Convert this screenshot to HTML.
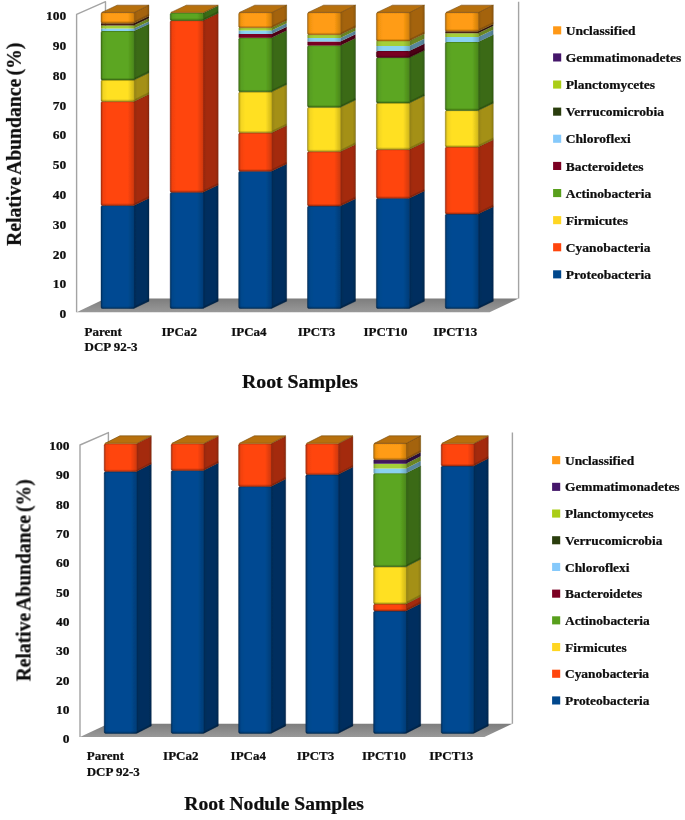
<!DOCTYPE html>
<html><head><meta charset="utf-8"><title>Relative abundance</title>
<style>
html,body{margin:0;padding:0;background:#fff;}
body{width:685px;height:820px;overflow:hidden;font-family:"Liberation Serif",serif;}
svg{display:block}
svg text{font-family:"Liberation Serif",serif;font-weight:bold;fill:#0c0c0c;stroke:#0c0c0c;stroke-width:0.22px;}
</style></head><body>
<svg width="685" height="820" viewBox="0 0 685 820">
<defs>
<linearGradient id="floorg" x1="0" y1="0" x2="0" y2="1"><stop offset="0" stop-color="#7d7d7d"/><stop offset="1" stop-color="#999999"/></linearGradient>
<linearGradient id="frontg" x1="0" y1="0" x2="1" y2="0"><stop offset="0" stop-color="#000" stop-opacity="0.30"/><stop offset="0.07" stop-color="#000" stop-opacity="0.05"/><stop offset="0.2" stop-color="#000" stop-opacity="0"/><stop offset="0.8" stop-color="#000" stop-opacity="0"/><stop offset="1" stop-color="#000" stop-opacity="0.2"/></linearGradient>
<linearGradient id="sideg" x1="0" y1="0" x2="1" y2="0"><stop offset="0" stop-color="#000" stop-opacity="0.10"/><stop offset="0.25" stop-color="#000" stop-opacity="0"/><stop offset="0.8" stop-color="#000" stop-opacity="0"/><stop offset="1" stop-color="#000" stop-opacity="0.14"/></linearGradient>
<linearGradient id="botg" x1="0" y1="0" x2="0" y2="1"><stop offset="0" stop-color="#000" stop-opacity="0"/><stop offset="1" stop-color="#000" stop-opacity="0.32"/></linearGradient>
<linearGradient id="topg" x1="0" y1="0" x2="0" y2="1"><stop offset="0" stop-color="#000" stop-opacity="0.14"/><stop offset="1" stop-color="#000" stop-opacity="0"/></linearGradient>
<filter id="soft" x="-2%" y="-2%" width="104%" height="104%"><feGaussianBlur stdDeviation="0.7"/></filter>
<filter id="softl" x="-5%" y="-5%" width="110%" height="110%"><feGaussianBlur stdDeviation="0.45"/></filter>
<filter id="softt" x="-5%" y="-5%" width="110%" height="110%"><feGaussianBlur stdDeviation="0.55"/></filter>
</defs>
<rect width="685" height="820" fill="#fff"/>
<g filter="url(#soft)">
<g fill="none" stroke="#a4a4a4" stroke-width="1.4" stroke-linejoin="round">
<polyline points="76.6,312.3 76.6,14.4 105.5,1.7 105.5,298.5"/>
<line x1="518.6" y1="1.7" x2="518.6" y2="298.5"/>
</g>
<polygon points="76.6,312.3 105.5,298.5 518.6,298.5 489.6,312.3" fill="url(#floorg)"/>
<polygon points="133.8,205.5 149.0,198.3 149.0,301.3 133.8,308.5" fill="#002f5e" stroke="#001c38" stroke-opacity="0.5" stroke-width="0.6" stroke-linejoin="round"/>
<polygon points="133.8,205.5 149.0,198.3 149.0,301.3 133.8,308.5" fill="url(#sideg)"/>
<polygon points="134.4,306.3 149.0,299.1 149.0,301.3 134.4,308.5" fill="#000" opacity="0.16"/>
<rect x="101.0" y="205.5" width="33.4" height="103.0" rx="1.6" fill="#004a92" stroke="#002850" stroke-opacity="0.55" stroke-width="0.7"/>
<rect x="101.0" y="205.5" width="33.4" height="103.0" rx="1.6" fill="url(#frontg)"/>
<rect x="101.0" y="306.1" width="33.4" height="2.4" rx="1" fill="url(#botg)"/>
<rect x="101.0" y="205.5" width="33.4" height="1.6" rx="1" fill="url(#topg)"/>
<polygon points="133.8,101.5 149.0,94.3 149.0,198.3 133.8,205.5" fill="#a42c0a" stroke="#621a06" stroke-opacity="0.5" stroke-width="0.6" stroke-linejoin="round"/>
<polygon points="133.8,101.5 149.0,94.3 149.0,198.3 133.8,205.5" fill="url(#sideg)"/>
<polygon points="134.4,203.3 149.0,196.1 149.0,198.3 134.4,205.5" fill="#000" opacity="0.16"/>
<rect x="101.0" y="101.5" width="33.4" height="104.0" rx="1.6" fill="#ff4511" stroke="#8c2509" stroke-opacity="0.55" stroke-width="0.7"/>
<rect x="101.0" y="101.5" width="33.4" height="104.0" rx="1.6" fill="url(#frontg)"/>
<rect x="101.0" y="203.1" width="33.4" height="2.4" rx="1" fill="url(#botg)"/>
<rect x="101.0" y="101.5" width="33.4" height="1.6" rx="1" fill="url(#topg)"/>
<polygon points="133.8,80.0 149.0,72.8 149.0,94.3 133.8,101.5" fill="#a49015" stroke="#62560c" stroke-opacity="0.5" stroke-width="0.6" stroke-linejoin="round"/>
<polygon points="133.8,80.0 149.0,72.8 149.0,94.3 133.8,101.5" fill="url(#sideg)"/>
<polygon points="134.4,99.3 149.0,92.1 149.0,94.3 134.4,101.5" fill="#000" opacity="0.16"/>
<rect x="101.0" y="80.0" width="33.4" height="21.5" rx="1.6" fill="#ffe022" stroke="#8c7b12" stroke-opacity="0.55" stroke-width="0.7"/>
<rect x="101.0" y="80.0" width="33.4" height="21.5" rx="1.6" fill="url(#frontg)"/>
<rect x="101.0" y="99.1" width="33.4" height="2.4" rx="1" fill="url(#botg)"/>
<rect x="101.0" y="80.0" width="33.4" height="1.6" rx="1" fill="url(#topg)"/>
<polygon points="133.8,31.1 149.0,23.9 149.0,72.8 133.8,80.0" fill="#3b6b15" stroke="#23400c" stroke-opacity="0.5" stroke-width="0.6" stroke-linejoin="round"/>
<polygon points="133.8,31.1 149.0,23.9 149.0,72.8 133.8,80.0" fill="url(#sideg)"/>
<polygon points="134.4,77.8 149.0,70.6 149.0,72.8 134.4,80.0" fill="#000" opacity="0.16"/>
<rect x="101.0" y="31.1" width="33.4" height="48.9" rx="1.6" fill="#5ca621" stroke="#325b12" stroke-opacity="0.55" stroke-width="0.7"/>
<rect x="101.0" y="31.1" width="33.4" height="48.9" rx="1.6" fill="url(#frontg)"/>
<rect x="101.0" y="77.6" width="33.4" height="2.4" rx="1" fill="url(#botg)"/>
<rect x="101.0" y="31.1" width="33.4" height="1.6" rx="1" fill="url(#topg)"/>
<polygon points="133.8,28.6 149.0,21.4 149.0,23.9 133.8,31.1" fill="#59879c"/>
<polygon points="133.8,28.6 149.0,21.4 149.0,23.9 133.8,31.1" fill="url(#sideg)"/>
<rect x="101.0" y="28.6" width="33.4" height="2.5" rx="0.3" fill="#8ad2f2"/>
<rect x="101.0" y="28.6" width="33.4" height="2.5" rx="0.3" fill="url(#frontg)"/>
<polygon points="133.8,25.5 149.0,18.3 149.0,21.4 133.8,28.6" fill="#6a8524"/>
<polygon points="133.8,25.5 149.0,18.3 149.0,21.4 133.8,28.6" fill="url(#sideg)"/>
<rect x="101.0" y="25.5" width="33.4" height="3.1" rx="0.3" fill="#a5cf38"/>
<rect x="101.0" y="25.5" width="33.4" height="3.1" rx="0.3" fill="url(#frontg)"/>
<polygon points="133.8,23.2 149.0,16.0 149.0,18.3 133.8,25.5" fill="#31160b"/>
<polygon points="133.8,23.2 149.0,16.0 149.0,18.3 133.8,25.5" fill="url(#sideg)"/>
<rect x="101.0" y="23.2" width="33.4" height="2.3" rx="0.3" fill="#4d2312"/>
<rect x="101.0" y="23.2" width="33.4" height="2.3" rx="0.3" fill="url(#frontg)"/>
<polygon points="133.8,12.4 149.0,5.2 149.0,16.0 133.8,23.2" fill="#a4640b" stroke="#623c06" stroke-opacity="0.5" stroke-width="0.6" stroke-linejoin="round"/>
<polygon points="133.8,12.4 149.0,5.2 149.0,16.0 133.8,23.2" fill="url(#sideg)"/>
<polygon points="134.4,21.0 149.0,13.8 149.0,16.0 134.4,23.2" fill="#000" opacity="0.16"/>
<rect x="101.0" y="12.4" width="33.4" height="10.8" rx="1.6" fill="#ff9c12" stroke="#8c5509" stroke-opacity="0.55" stroke-width="0.7"/>
<rect x="101.0" y="12.4" width="33.4" height="10.8" rx="1.6" fill="url(#frontg)"/>
<rect x="101.0" y="20.8" width="33.4" height="2.4" rx="1" fill="url(#botg)"/>
<rect x="101.0" y="12.4" width="33.4" height="1.6" rx="1" fill="url(#topg)"/>
<polygon points="101.8,12.4 134.4,12.4 149.0,5.2 117.1,5.2" fill="#b7700c" stroke="#6d4307" stroke-opacity="0.7" stroke-width="0.8" stroke-linejoin="round"/>
<polygon points="203.0,192.3 218.2,185.1 218.2,301.3 203.0,308.5" fill="#002f5e" stroke="#001c38" stroke-opacity="0.5" stroke-width="0.6" stroke-linejoin="round"/>
<polygon points="203.0,192.3 218.2,185.1 218.2,301.3 203.0,308.5" fill="url(#sideg)"/>
<polygon points="203.6,306.3 218.2,299.1 218.2,301.3 203.6,308.5" fill="#000" opacity="0.16"/>
<rect x="170.2" y="192.3" width="33.4" height="116.2" rx="1.6" fill="#004a92" stroke="#002850" stroke-opacity="0.55" stroke-width="0.7"/>
<rect x="170.2" y="192.3" width="33.4" height="116.2" rx="1.6" fill="url(#frontg)"/>
<rect x="170.2" y="306.1" width="33.4" height="2.4" rx="1" fill="url(#botg)"/>
<rect x="170.2" y="192.3" width="33.4" height="1.6" rx="1" fill="url(#topg)"/>
<polygon points="203.0,20.5 218.2,13.3 218.2,185.1 203.0,192.3" fill="#a42c0a" stroke="#621a06" stroke-opacity="0.5" stroke-width="0.6" stroke-linejoin="round"/>
<polygon points="203.0,20.5 218.2,13.3 218.2,185.1 203.0,192.3" fill="url(#sideg)"/>
<polygon points="203.6,190.1 218.2,182.9 218.2,185.1 203.6,192.3" fill="#000" opacity="0.16"/>
<rect x="170.2" y="20.5" width="33.4" height="171.8" rx="1.6" fill="#ff4511" stroke="#8c2509" stroke-opacity="0.55" stroke-width="0.7"/>
<rect x="170.2" y="20.5" width="33.4" height="171.8" rx="1.6" fill="url(#frontg)"/>
<rect x="170.2" y="189.9" width="33.4" height="2.4" rx="1" fill="url(#botg)"/>
<rect x="170.2" y="20.5" width="33.4" height="1.6" rx="1" fill="url(#topg)"/>
<polygon points="203.0,12.9 218.2,5.7 218.2,13.3 203.0,20.5" fill="#3b6b15" stroke="#23400c" stroke-opacity="0.5" stroke-width="0.6" stroke-linejoin="round"/>
<polygon points="203.0,12.9 218.2,5.7 218.2,13.3 203.0,20.5" fill="url(#sideg)"/>
<polygon points="203.6,18.3 218.2,11.1 218.2,13.3 203.6,20.5" fill="#000" opacity="0.16"/>
<rect x="170.2" y="12.9" width="33.4" height="7.6" rx="1.6" fill="#5ca621" stroke="#325b12" stroke-opacity="0.55" stroke-width="0.7"/>
<rect x="170.2" y="12.9" width="33.4" height="7.6" rx="1.6" fill="url(#frontg)"/>
<rect x="170.2" y="18.1" width="33.4" height="2.4" rx="1" fill="url(#botg)"/>
<rect x="170.2" y="12.9" width="33.4" height="1.6" rx="1" fill="url(#topg)"/>
<polygon points="203.0,12.4 218.2,5.2 218.2,5.7 203.0,12.9" fill="#a4640b"/>
<rect x="170.2" y="12.4" width="33.4" height="0.5" rx="0.3" fill="#ff9c12"/>
<polygon points="171.0,12.4 203.6,12.4 218.2,5.2 186.3,5.2" fill="#b7700c" stroke="#6d4307" stroke-opacity="0.7" stroke-width="0.8" stroke-linejoin="round"/>
<polygon points="271.5,171.2 286.7,164.0 286.7,301.3 271.5,308.5" fill="#002f5e" stroke="#001c38" stroke-opacity="0.5" stroke-width="0.6" stroke-linejoin="round"/>
<polygon points="271.5,171.2 286.7,164.0 286.7,301.3 271.5,308.5" fill="url(#sideg)"/>
<polygon points="272.1,306.3 286.7,299.1 286.7,301.3 272.1,308.5" fill="#000" opacity="0.16"/>
<rect x="238.7" y="171.2" width="33.4" height="137.3" rx="1.6" fill="#004a92" stroke="#002850" stroke-opacity="0.55" stroke-width="0.7"/>
<rect x="238.7" y="171.2" width="33.4" height="137.3" rx="1.6" fill="url(#frontg)"/>
<rect x="238.7" y="306.1" width="33.4" height="2.4" rx="1" fill="url(#botg)"/>
<rect x="238.7" y="171.2" width="33.4" height="1.6" rx="1" fill="url(#topg)"/>
<polygon points="271.5,132.8 286.7,125.6 286.7,164.0 271.5,171.2" fill="#a42c0a" stroke="#621a06" stroke-opacity="0.5" stroke-width="0.6" stroke-linejoin="round"/>
<polygon points="271.5,132.8 286.7,125.6 286.7,164.0 271.5,171.2" fill="url(#sideg)"/>
<polygon points="272.1,169.0 286.7,161.8 286.7,164.0 272.1,171.2" fill="#000" opacity="0.16"/>
<rect x="238.7" y="132.8" width="33.4" height="38.4" rx="1.6" fill="#ff4511" stroke="#8c2509" stroke-opacity="0.55" stroke-width="0.7"/>
<rect x="238.7" y="132.8" width="33.4" height="38.4" rx="1.6" fill="url(#frontg)"/>
<rect x="238.7" y="168.8" width="33.4" height="2.4" rx="1" fill="url(#botg)"/>
<rect x="238.7" y="132.8" width="33.4" height="1.6" rx="1" fill="url(#topg)"/>
<polygon points="271.5,91.8 286.7,84.6 286.7,125.6 271.5,132.8" fill="#a49015" stroke="#62560c" stroke-opacity="0.5" stroke-width="0.6" stroke-linejoin="round"/>
<polygon points="271.5,91.8 286.7,84.6 286.7,125.6 271.5,132.8" fill="url(#sideg)"/>
<polygon points="272.1,130.6 286.7,123.4 286.7,125.6 272.1,132.8" fill="#000" opacity="0.16"/>
<rect x="238.7" y="91.8" width="33.4" height="41.0" rx="1.6" fill="#ffe022" stroke="#8c7b12" stroke-opacity="0.55" stroke-width="0.7"/>
<rect x="238.7" y="91.8" width="33.4" height="41.0" rx="1.6" fill="url(#frontg)"/>
<rect x="238.7" y="130.4" width="33.4" height="2.4" rx="1" fill="url(#botg)"/>
<rect x="238.7" y="91.8" width="33.4" height="1.6" rx="1" fill="url(#topg)"/>
<polygon points="271.5,37.7 286.7,30.5 286.7,84.6 271.5,91.8" fill="#3b6b15" stroke="#23400c" stroke-opacity="0.5" stroke-width="0.6" stroke-linejoin="round"/>
<polygon points="271.5,37.7 286.7,30.5 286.7,84.6 271.5,91.8" fill="url(#sideg)"/>
<polygon points="272.1,89.6 286.7,82.4 286.7,84.6 272.1,91.8" fill="#000" opacity="0.16"/>
<rect x="238.7" y="37.7" width="33.4" height="54.1" rx="1.6" fill="#5ca621" stroke="#325b12" stroke-opacity="0.55" stroke-width="0.7"/>
<rect x="238.7" y="37.7" width="33.4" height="54.1" rx="1.6" fill="url(#frontg)"/>
<rect x="238.7" y="89.4" width="33.4" height="2.4" rx="1" fill="url(#botg)"/>
<rect x="238.7" y="37.7" width="33.4" height="1.6" rx="1" fill="url(#topg)"/>
<polygon points="271.5,34.0 286.7,26.8 286.7,30.5 271.5,37.7" fill="#4e0315"/>
<polygon points="271.5,34.0 286.7,26.8 286.7,30.5 271.5,37.7" fill="url(#sideg)"/>
<rect x="238.7" y="34.0" width="33.4" height="3.7" rx="0.3" fill="#7a0622"/>
<rect x="238.7" y="34.0" width="33.4" height="3.7" rx="0.3" fill="url(#frontg)"/>
<polygon points="271.5,30.5 286.7,23.3 286.7,26.8 271.5,34.0" fill="#59879c"/>
<polygon points="271.5,30.5 286.7,23.3 286.7,26.8 271.5,34.0" fill="url(#sideg)"/>
<rect x="238.7" y="30.5" width="33.4" height="3.5" rx="0.3" fill="#8ad2f2"/>
<rect x="238.7" y="30.5" width="33.4" height="3.5" rx="0.3" fill="url(#frontg)"/>
<polygon points="271.5,27.8 286.7,20.6 286.7,23.3 271.5,30.5" fill="#6a8524"/>
<polygon points="271.5,27.8 286.7,20.6 286.7,23.3 271.5,30.5" fill="url(#sideg)"/>
<rect x="238.7" y="27.8" width="33.4" height="2.7" rx="0.3" fill="#a5cf38"/>
<rect x="238.7" y="27.8" width="33.4" height="2.7" rx="0.3" fill="url(#frontg)"/>
<polygon points="271.5,12.4 286.7,5.2 286.7,20.6 271.5,27.8" fill="#a4640b" stroke="#623c06" stroke-opacity="0.5" stroke-width="0.6" stroke-linejoin="round"/>
<polygon points="271.5,12.4 286.7,5.2 286.7,20.6 271.5,27.8" fill="url(#sideg)"/>
<polygon points="272.1,25.6 286.7,18.4 286.7,20.6 272.1,27.8" fill="#000" opacity="0.16"/>
<rect x="238.7" y="12.4" width="33.4" height="15.4" rx="1.6" fill="#ff9c12" stroke="#8c5509" stroke-opacity="0.55" stroke-width="0.7"/>
<rect x="238.7" y="12.4" width="33.4" height="15.4" rx="1.6" fill="url(#frontg)"/>
<rect x="238.7" y="25.4" width="33.4" height="2.4" rx="1" fill="url(#botg)"/>
<rect x="238.7" y="12.4" width="33.4" height="1.6" rx="1" fill="url(#topg)"/>
<polygon points="239.5,12.4 272.1,12.4 286.7,5.2 254.8,5.2" fill="#b7700c" stroke="#6d4307" stroke-opacity="0.7" stroke-width="0.8" stroke-linejoin="round"/>
<polygon points="340.3,206.0 355.5,198.8 355.5,301.3 340.3,308.5" fill="#002f5e" stroke="#001c38" stroke-opacity="0.5" stroke-width="0.6" stroke-linejoin="round"/>
<polygon points="340.3,206.0 355.5,198.8 355.5,301.3 340.3,308.5" fill="url(#sideg)"/>
<polygon points="340.9,306.3 355.5,299.1 355.5,301.3 340.9,308.5" fill="#000" opacity="0.16"/>
<rect x="307.5" y="206.0" width="33.4" height="102.5" rx="1.6" fill="#004a92" stroke="#002850" stroke-opacity="0.55" stroke-width="0.7"/>
<rect x="307.5" y="206.0" width="33.4" height="102.5" rx="1.6" fill="url(#frontg)"/>
<rect x="307.5" y="306.1" width="33.4" height="2.4" rx="1" fill="url(#botg)"/>
<rect x="307.5" y="206.0" width="33.4" height="1.6" rx="1" fill="url(#topg)"/>
<polygon points="340.3,151.6 355.5,144.4 355.5,198.8 340.3,206.0" fill="#a42c0a" stroke="#621a06" stroke-opacity="0.5" stroke-width="0.6" stroke-linejoin="round"/>
<polygon points="340.3,151.6 355.5,144.4 355.5,198.8 340.3,206.0" fill="url(#sideg)"/>
<polygon points="340.9,203.8 355.5,196.6 355.5,198.8 340.9,206.0" fill="#000" opacity="0.16"/>
<rect x="307.5" y="151.6" width="33.4" height="54.4" rx="1.6" fill="#ff4511" stroke="#8c2509" stroke-opacity="0.55" stroke-width="0.7"/>
<rect x="307.5" y="151.6" width="33.4" height="54.4" rx="1.6" fill="url(#frontg)"/>
<rect x="307.5" y="203.6" width="33.4" height="2.4" rx="1" fill="url(#botg)"/>
<rect x="307.5" y="151.6" width="33.4" height="1.6" rx="1" fill="url(#topg)"/>
<polygon points="340.3,107.2 355.5,100.0 355.5,144.4 340.3,151.6" fill="#a49015" stroke="#62560c" stroke-opacity="0.5" stroke-width="0.6" stroke-linejoin="round"/>
<polygon points="340.3,107.2 355.5,100.0 355.5,144.4 340.3,151.6" fill="url(#sideg)"/>
<polygon points="340.9,149.4 355.5,142.2 355.5,144.4 340.9,151.6" fill="#000" opacity="0.16"/>
<rect x="307.5" y="107.2" width="33.4" height="44.4" rx="1.6" fill="#ffe022" stroke="#8c7b12" stroke-opacity="0.55" stroke-width="0.7"/>
<rect x="307.5" y="107.2" width="33.4" height="44.4" rx="1.6" fill="url(#frontg)"/>
<rect x="307.5" y="149.2" width="33.4" height="2.4" rx="1" fill="url(#botg)"/>
<rect x="307.5" y="107.2" width="33.4" height="1.6" rx="1" fill="url(#topg)"/>
<polygon points="340.3,45.4 355.5,38.2 355.5,100.0 340.3,107.2" fill="#3b6b15" stroke="#23400c" stroke-opacity="0.5" stroke-width="0.6" stroke-linejoin="round"/>
<polygon points="340.3,45.4 355.5,38.2 355.5,100.0 340.3,107.2" fill="url(#sideg)"/>
<polygon points="340.9,105.0 355.5,97.8 355.5,100.0 340.9,107.2" fill="#000" opacity="0.16"/>
<rect x="307.5" y="45.4" width="33.4" height="61.8" rx="1.6" fill="#5ca621" stroke="#325b12" stroke-opacity="0.55" stroke-width="0.7"/>
<rect x="307.5" y="45.4" width="33.4" height="61.8" rx="1.6" fill="url(#frontg)"/>
<rect x="307.5" y="104.8" width="33.4" height="2.4" rx="1" fill="url(#botg)"/>
<rect x="307.5" y="45.4" width="33.4" height="1.6" rx="1" fill="url(#topg)"/>
<polygon points="340.3,41.4 355.5,34.2 355.5,38.2 340.3,45.4" fill="#4e0315"/>
<polygon points="340.3,41.4 355.5,34.2 355.5,38.2 340.3,45.4" fill="url(#sideg)"/>
<rect x="307.5" y="41.4" width="33.4" height="4.0" rx="0.3" fill="#7a0622"/>
<rect x="307.5" y="41.4" width="33.4" height="4.0" rx="0.3" fill="url(#frontg)"/>
<polygon points="340.3,38.0 355.5,30.8 355.5,34.2 340.3,41.4" fill="#59879c"/>
<polygon points="340.3,38.0 355.5,30.8 355.5,34.2 340.3,41.4" fill="url(#sideg)"/>
<rect x="307.5" y="38.0" width="33.4" height="3.4" rx="0.3" fill="#8ad2f2"/>
<rect x="307.5" y="38.0" width="33.4" height="3.4" rx="0.3" fill="url(#frontg)"/>
<polygon points="340.3,34.7 355.5,27.5 355.5,30.8 340.3,38.0" fill="#6a8524"/>
<polygon points="340.3,34.7 355.5,27.5 355.5,30.8 340.3,38.0" fill="url(#sideg)"/>
<rect x="307.5" y="34.7" width="33.4" height="3.3" rx="0.3" fill="#a5cf38"/>
<rect x="307.5" y="34.7" width="33.4" height="3.3" rx="0.3" fill="url(#frontg)"/>
<polygon points="340.3,12.4 355.5,5.2 355.5,27.5 340.3,34.7" fill="#a4640b" stroke="#623c06" stroke-opacity="0.5" stroke-width="0.6" stroke-linejoin="round"/>
<polygon points="340.3,12.4 355.5,5.2 355.5,27.5 340.3,34.7" fill="url(#sideg)"/>
<polygon points="340.9,32.5 355.5,25.3 355.5,27.5 340.9,34.7" fill="#000" opacity="0.16"/>
<rect x="307.5" y="12.4" width="33.4" height="22.3" rx="1.6" fill="#ff9c12" stroke="#8c5509" stroke-opacity="0.55" stroke-width="0.7"/>
<rect x="307.5" y="12.4" width="33.4" height="22.3" rx="1.6" fill="url(#frontg)"/>
<rect x="307.5" y="32.3" width="33.4" height="2.4" rx="1" fill="url(#botg)"/>
<rect x="307.5" y="12.4" width="33.4" height="1.6" rx="1" fill="url(#topg)"/>
<polygon points="308.3,12.4 340.9,12.4 355.5,5.2 323.6,5.2" fill="#b7700c" stroke="#6d4307" stroke-opacity="0.7" stroke-width="0.8" stroke-linejoin="round"/>
<polygon points="409.2,198.3 424.4,191.1 424.4,301.3 409.2,308.5" fill="#002f5e" stroke="#001c38" stroke-opacity="0.5" stroke-width="0.6" stroke-linejoin="round"/>
<polygon points="409.2,198.3 424.4,191.1 424.4,301.3 409.2,308.5" fill="url(#sideg)"/>
<polygon points="409.8,306.3 424.4,299.1 424.4,301.3 409.8,308.5" fill="#000" opacity="0.16"/>
<rect x="376.4" y="198.3" width="33.4" height="110.2" rx="1.6" fill="#004a92" stroke="#002850" stroke-opacity="0.55" stroke-width="0.7"/>
<rect x="376.4" y="198.3" width="33.4" height="110.2" rx="1.6" fill="url(#frontg)"/>
<rect x="376.4" y="306.1" width="33.4" height="2.4" rx="1" fill="url(#botg)"/>
<rect x="376.4" y="198.3" width="33.4" height="1.6" rx="1" fill="url(#topg)"/>
<polygon points="409.2,149.5 424.4,142.3 424.4,191.1 409.2,198.3" fill="#a42c0a" stroke="#621a06" stroke-opacity="0.5" stroke-width="0.6" stroke-linejoin="round"/>
<polygon points="409.2,149.5 424.4,142.3 424.4,191.1 409.2,198.3" fill="url(#sideg)"/>
<polygon points="409.8,196.1 424.4,188.9 424.4,191.1 409.8,198.3" fill="#000" opacity="0.16"/>
<rect x="376.4" y="149.5" width="33.4" height="48.8" rx="1.6" fill="#ff4511" stroke="#8c2509" stroke-opacity="0.55" stroke-width="0.7"/>
<rect x="376.4" y="149.5" width="33.4" height="48.8" rx="1.6" fill="url(#frontg)"/>
<rect x="376.4" y="195.9" width="33.4" height="2.4" rx="1" fill="url(#botg)"/>
<rect x="376.4" y="149.5" width="33.4" height="1.6" rx="1" fill="url(#topg)"/>
<polygon points="409.2,103.0 424.4,95.8 424.4,142.3 409.2,149.5" fill="#a49015" stroke="#62560c" stroke-opacity="0.5" stroke-width="0.6" stroke-linejoin="round"/>
<polygon points="409.2,103.0 424.4,95.8 424.4,142.3 409.2,149.5" fill="url(#sideg)"/>
<polygon points="409.8,147.3 424.4,140.1 424.4,142.3 409.8,149.5" fill="#000" opacity="0.16"/>
<rect x="376.4" y="103.0" width="33.4" height="46.5" rx="1.6" fill="#ffe022" stroke="#8c7b12" stroke-opacity="0.55" stroke-width="0.7"/>
<rect x="376.4" y="103.0" width="33.4" height="46.5" rx="1.6" fill="url(#frontg)"/>
<rect x="376.4" y="147.1" width="33.4" height="2.4" rx="1" fill="url(#botg)"/>
<rect x="376.4" y="103.0" width="33.4" height="1.6" rx="1" fill="url(#topg)"/>
<polygon points="409.2,57.5 424.4,50.3 424.4,95.8 409.2,103.0" fill="#3b6b15" stroke="#23400c" stroke-opacity="0.5" stroke-width="0.6" stroke-linejoin="round"/>
<polygon points="409.2,57.5 424.4,50.3 424.4,95.8 409.2,103.0" fill="url(#sideg)"/>
<polygon points="409.8,100.8 424.4,93.6 424.4,95.8 409.8,103.0" fill="#000" opacity="0.16"/>
<rect x="376.4" y="57.5" width="33.4" height="45.5" rx="1.6" fill="#5ca621" stroke="#325b12" stroke-opacity="0.55" stroke-width="0.7"/>
<rect x="376.4" y="57.5" width="33.4" height="45.5" rx="1.6" fill="url(#frontg)"/>
<rect x="376.4" y="100.6" width="33.4" height="2.4" rx="1" fill="url(#botg)"/>
<rect x="376.4" y="57.5" width="33.4" height="1.6" rx="1" fill="url(#topg)"/>
<polygon points="409.2,51.0 424.4,43.8 424.4,50.3 409.2,57.5" fill="#4e0315" stroke="#2e010c" stroke-opacity="0.5" stroke-width="0.6" stroke-linejoin="round"/>
<polygon points="409.2,51.0 424.4,43.8 424.4,50.3 409.2,57.5" fill="url(#sideg)"/>
<polygon points="409.8,55.3 424.4,48.1 424.4,50.3 409.8,57.5" fill="#000" opacity="0.16"/>
<rect x="376.4" y="51.0" width="33.4" height="6.5" rx="1.6" fill="#7a0622" stroke="#430312" stroke-opacity="0.55" stroke-width="0.7"/>
<rect x="376.4" y="51.0" width="33.4" height="6.5" rx="1.6" fill="url(#frontg)"/>
<rect x="376.4" y="55.1" width="33.4" height="2.4" rx="1" fill="url(#botg)"/>
<rect x="376.4" y="51.0" width="33.4" height="1.6" rx="1" fill="url(#topg)"/>
<polygon points="409.2,46.0 424.4,38.8 424.4,43.8 409.2,51.0" fill="#59879c"/>
<polygon points="409.2,46.0 424.4,38.8 424.4,43.8 409.2,51.0" fill="url(#sideg)"/>
<rect x="376.4" y="46.0" width="33.4" height="5.0" rx="0.3" fill="#8ad2f2"/>
<rect x="376.4" y="46.0" width="33.4" height="5.0" rx="0.3" fill="url(#frontg)"/>
<polygon points="409.2,41.0 424.4,33.8 424.4,38.8 409.2,46.0" fill="#6a8524"/>
<polygon points="409.2,41.0 424.4,33.8 424.4,38.8 409.2,46.0" fill="url(#sideg)"/>
<rect x="376.4" y="41.0" width="33.4" height="5.0" rx="0.3" fill="#a5cf38"/>
<rect x="376.4" y="41.0" width="33.4" height="5.0" rx="0.3" fill="url(#frontg)"/>
<polygon points="409.2,12.4 424.4,5.2 424.4,33.8 409.2,41.0" fill="#a4640b" stroke="#623c06" stroke-opacity="0.5" stroke-width="0.6" stroke-linejoin="round"/>
<polygon points="409.2,12.4 424.4,5.2 424.4,33.8 409.2,41.0" fill="url(#sideg)"/>
<polygon points="409.8,38.8 424.4,31.6 424.4,33.8 409.8,41.0" fill="#000" opacity="0.16"/>
<rect x="376.4" y="12.4" width="33.4" height="28.6" rx="1.6" fill="#ff9c12" stroke="#8c5509" stroke-opacity="0.55" stroke-width="0.7"/>
<rect x="376.4" y="12.4" width="33.4" height="28.6" rx="1.6" fill="url(#frontg)"/>
<rect x="376.4" y="38.6" width="33.4" height="2.4" rx="1" fill="url(#botg)"/>
<rect x="376.4" y="12.4" width="33.4" height="1.6" rx="1" fill="url(#topg)"/>
<polygon points="377.2,12.4 409.8,12.4 424.4,5.2 392.5,5.2" fill="#b7700c" stroke="#6d4307" stroke-opacity="0.7" stroke-width="0.8" stroke-linejoin="round"/>
<polygon points="478.1,214.0 493.3,206.8 493.3,301.3 478.1,308.5" fill="#002f5e" stroke="#001c38" stroke-opacity="0.5" stroke-width="0.6" stroke-linejoin="round"/>
<polygon points="478.1,214.0 493.3,206.8 493.3,301.3 478.1,308.5" fill="url(#sideg)"/>
<polygon points="478.7,306.3 493.3,299.1 493.3,301.3 478.7,308.5" fill="#000" opacity="0.16"/>
<rect x="445.3" y="214.0" width="33.4" height="94.5" rx="1.6" fill="#004a92" stroke="#002850" stroke-opacity="0.55" stroke-width="0.7"/>
<rect x="445.3" y="214.0" width="33.4" height="94.5" rx="1.6" fill="url(#frontg)"/>
<rect x="445.3" y="306.1" width="33.4" height="2.4" rx="1" fill="url(#botg)"/>
<rect x="445.3" y="214.0" width="33.4" height="1.6" rx="1" fill="url(#topg)"/>
<polygon points="478.1,147.0 493.3,139.8 493.3,206.8 478.1,214.0" fill="#a42c0a" stroke="#621a06" stroke-opacity="0.5" stroke-width="0.6" stroke-linejoin="round"/>
<polygon points="478.1,147.0 493.3,139.8 493.3,206.8 478.1,214.0" fill="url(#sideg)"/>
<polygon points="478.7,211.8 493.3,204.6 493.3,206.8 478.7,214.0" fill="#000" opacity="0.16"/>
<rect x="445.3" y="147.0" width="33.4" height="67.0" rx="1.6" fill="#ff4511" stroke="#8c2509" stroke-opacity="0.55" stroke-width="0.7"/>
<rect x="445.3" y="147.0" width="33.4" height="67.0" rx="1.6" fill="url(#frontg)"/>
<rect x="445.3" y="211.6" width="33.4" height="2.4" rx="1" fill="url(#botg)"/>
<rect x="445.3" y="147.0" width="33.4" height="1.6" rx="1" fill="url(#topg)"/>
<polygon points="478.1,110.4 493.3,103.2 493.3,139.8 478.1,147.0" fill="#a49015" stroke="#62560c" stroke-opacity="0.5" stroke-width="0.6" stroke-linejoin="round"/>
<polygon points="478.1,110.4 493.3,103.2 493.3,139.8 478.1,147.0" fill="url(#sideg)"/>
<polygon points="478.7,144.8 493.3,137.6 493.3,139.8 478.7,147.0" fill="#000" opacity="0.16"/>
<rect x="445.3" y="110.4" width="33.4" height="36.6" rx="1.6" fill="#ffe022" stroke="#8c7b12" stroke-opacity="0.55" stroke-width="0.7"/>
<rect x="445.3" y="110.4" width="33.4" height="36.6" rx="1.6" fill="url(#frontg)"/>
<rect x="445.3" y="144.6" width="33.4" height="2.4" rx="1" fill="url(#botg)"/>
<rect x="445.3" y="110.4" width="33.4" height="1.6" rx="1" fill="url(#topg)"/>
<polygon points="478.1,42.0 493.3,34.8 493.3,103.2 478.1,110.4" fill="#3b6b15" stroke="#23400c" stroke-opacity="0.5" stroke-width="0.6" stroke-linejoin="round"/>
<polygon points="478.1,42.0 493.3,34.8 493.3,103.2 478.1,110.4" fill="url(#sideg)"/>
<polygon points="478.7,108.2 493.3,101.0 493.3,103.2 478.7,110.4" fill="#000" opacity="0.16"/>
<rect x="445.3" y="42.0" width="33.4" height="68.4" rx="1.6" fill="#5ca621" stroke="#325b12" stroke-opacity="0.55" stroke-width="0.7"/>
<rect x="445.3" y="42.0" width="33.4" height="68.4" rx="1.6" fill="url(#frontg)"/>
<rect x="445.3" y="108.0" width="33.4" height="2.4" rx="1" fill="url(#botg)"/>
<rect x="445.3" y="42.0" width="33.4" height="1.6" rx="1" fill="url(#topg)"/>
<polygon points="478.1,37.0 493.3,29.8 493.3,34.8 478.1,42.0" fill="#59879c"/>
<polygon points="478.1,37.0 493.3,29.8 493.3,34.8 478.1,42.0" fill="url(#sideg)"/>
<rect x="445.3" y="37.0" width="33.4" height="5.0" rx="0.3" fill="#8ad2f2"/>
<rect x="445.3" y="37.0" width="33.4" height="5.0" rx="0.3" fill="url(#frontg)"/>
<polygon points="478.1,33.3 493.3,26.1 493.3,29.8 478.1,37.0" fill="#6a8524"/>
<polygon points="478.1,33.3 493.3,26.1 493.3,29.8 478.1,37.0" fill="url(#sideg)"/>
<rect x="445.3" y="33.3" width="33.4" height="3.7" rx="0.3" fill="#a5cf38"/>
<rect x="445.3" y="33.3" width="33.4" height="3.7" rx="0.3" fill="url(#frontg)"/>
<polygon points="478.1,31.3 493.3,24.1 493.3,26.1 478.1,33.3" fill="#31160b"/>
<polygon points="478.1,31.3 493.3,24.1 493.3,26.1 478.1,33.3" fill="url(#sideg)"/>
<rect x="445.3" y="31.3" width="33.4" height="2.0" rx="0.3" fill="#4d2312"/>
<rect x="445.3" y="31.3" width="33.4" height="2.0" rx="0.3" fill="url(#frontg)"/>
<polygon points="478.1,12.4 493.3,5.2 493.3,24.1 478.1,31.3" fill="#a4640b" stroke="#623c06" stroke-opacity="0.5" stroke-width="0.6" stroke-linejoin="round"/>
<polygon points="478.1,12.4 493.3,5.2 493.3,24.1 478.1,31.3" fill="url(#sideg)"/>
<polygon points="478.7,29.1 493.3,21.9 493.3,24.1 478.7,31.3" fill="#000" opacity="0.16"/>
<rect x="445.3" y="12.4" width="33.4" height="18.9" rx="1.6" fill="#ff9c12" stroke="#8c5509" stroke-opacity="0.55" stroke-width="0.7"/>
<rect x="445.3" y="12.4" width="33.4" height="18.9" rx="1.6" fill="url(#frontg)"/>
<rect x="445.3" y="28.9" width="33.4" height="2.4" rx="1" fill="url(#botg)"/>
<rect x="445.3" y="12.4" width="33.4" height="1.6" rx="1" fill="url(#topg)"/>
<polygon points="446.1,12.4 478.7,12.4 493.3,5.2 461.4,5.2" fill="#b7700c" stroke="#6d4307" stroke-opacity="0.7" stroke-width="0.8" stroke-linejoin="round"/>
<g fill="none" stroke="#a4a4a4" stroke-width="1.4" stroke-linejoin="round">
<polyline points="80.0,737.1 80.0,445.0 108.4,432.6 108.4,723.8"/>
<line x1="512.4" y1="432.6" x2="512.4" y2="723.8"/>
</g>
<polygon points="80.0,737.1 108.4,723.8 512.4,723.8 484.4,737.1" fill="url(#floorg)"/>
<polygon points="136.5,471.6 151.3,464.1 151.3,725.9 136.5,733.4" fill="#002f5e" stroke="#001c38" stroke-opacity="0.5" stroke-width="0.6" stroke-linejoin="round"/>
<polygon points="136.5,471.6 151.3,464.1 151.3,725.9 136.5,733.4" fill="url(#sideg)"/>
<polygon points="137.1,731.2 151.3,723.7 151.3,725.9 137.1,733.4" fill="#000" opacity="0.16"/>
<rect x="104.2" y="471.6" width="32.9" height="261.8" rx="1.6" fill="#004a92" stroke="#002850" stroke-opacity="0.55" stroke-width="0.7"/>
<rect x="104.2" y="471.6" width="32.9" height="261.8" rx="1.6" fill="url(#frontg)"/>
<rect x="104.2" y="731.0" width="32.9" height="2.4" rx="1" fill="url(#botg)"/>
<rect x="104.2" y="471.6" width="32.9" height="1.6" rx="1" fill="url(#topg)"/>
<polygon points="136.5,443.7 151.3,436.2 151.3,464.1 136.5,471.6" fill="#a42c0a" stroke="#621a06" stroke-opacity="0.5" stroke-width="0.6" stroke-linejoin="round"/>
<polygon points="136.5,443.7 151.3,436.2 151.3,464.1 136.5,471.6" fill="url(#sideg)"/>
<polygon points="137.1,469.4 151.3,461.9 151.3,464.1 137.1,471.6" fill="#000" opacity="0.16"/>
<rect x="104.2" y="443.7" width="32.9" height="27.9" rx="1.6" fill="#ff4511" stroke="#8c2509" stroke-opacity="0.55" stroke-width="0.7"/>
<rect x="104.2" y="443.7" width="32.9" height="27.9" rx="1.6" fill="url(#frontg)"/>
<rect x="104.2" y="469.2" width="32.9" height="2.4" rx="1" fill="url(#botg)"/>
<rect x="104.2" y="443.7" width="32.9" height="1.6" rx="1" fill="url(#topg)"/>
<polygon points="136.5,443.3 151.3,435.8 151.3,436.2 136.5,443.7" fill="#a4640b"/>
<rect x="104.2" y="443.3" width="32.9" height="0.4" rx="0.3" fill="#ff9c12"/>
<polygon points="105.0,443.3 137.1,443.3 151.3,435.8 119.9,435.8" fill="#b7700c" stroke="#6d4307" stroke-opacity="0.7" stroke-width="0.8" stroke-linejoin="round"/>
<polygon points="203.5,470.4 218.3,462.9 218.3,725.9 203.5,733.4" fill="#002f5e" stroke="#001c38" stroke-opacity="0.5" stroke-width="0.6" stroke-linejoin="round"/>
<polygon points="203.5,470.4 218.3,462.9 218.3,725.9 203.5,733.4" fill="url(#sideg)"/>
<polygon points="204.1,731.2 218.3,723.7 218.3,725.9 204.1,733.4" fill="#000" opacity="0.16"/>
<rect x="171.2" y="470.4" width="32.9" height="263.0" rx="1.6" fill="#004a92" stroke="#002850" stroke-opacity="0.55" stroke-width="0.7"/>
<rect x="171.2" y="470.4" width="32.9" height="263.0" rx="1.6" fill="url(#frontg)"/>
<rect x="171.2" y="731.0" width="32.9" height="2.4" rx="1" fill="url(#botg)"/>
<rect x="171.2" y="470.4" width="32.9" height="1.6" rx="1" fill="url(#topg)"/>
<polygon points="203.5,443.7 218.3,436.2 218.3,462.9 203.5,470.4" fill="#a42c0a" stroke="#621a06" stroke-opacity="0.5" stroke-width="0.6" stroke-linejoin="round"/>
<polygon points="203.5,443.7 218.3,436.2 218.3,462.9 203.5,470.4" fill="url(#sideg)"/>
<polygon points="204.1,468.2 218.3,460.7 218.3,462.9 204.1,470.4" fill="#000" opacity="0.16"/>
<rect x="171.2" y="443.7" width="32.9" height="26.7" rx="1.6" fill="#ff4511" stroke="#8c2509" stroke-opacity="0.55" stroke-width="0.7"/>
<rect x="171.2" y="443.7" width="32.9" height="26.7" rx="1.6" fill="url(#frontg)"/>
<rect x="171.2" y="468.0" width="32.9" height="2.4" rx="1" fill="url(#botg)"/>
<rect x="171.2" y="443.7" width="32.9" height="1.6" rx="1" fill="url(#topg)"/>
<polygon points="203.5,443.3 218.3,435.8 218.3,436.2 203.5,443.7" fill="#a4640b"/>
<rect x="171.2" y="443.3" width="32.9" height="0.4" rx="0.3" fill="#ff9c12"/>
<polygon points="172.0,443.3 204.1,443.3 218.3,435.8 186.9,435.8" fill="#b7700c" stroke="#6d4307" stroke-opacity="0.7" stroke-width="0.8" stroke-linejoin="round"/>
<polygon points="270.9,486.5 285.7,479.0 285.7,725.9 270.9,733.4" fill="#002f5e" stroke="#001c38" stroke-opacity="0.5" stroke-width="0.6" stroke-linejoin="round"/>
<polygon points="270.9,486.5 285.7,479.0 285.7,725.9 270.9,733.4" fill="url(#sideg)"/>
<polygon points="271.5,731.2 285.7,723.7 285.7,725.9 271.5,733.4" fill="#000" opacity="0.16"/>
<rect x="238.6" y="486.5" width="32.9" height="246.9" rx="1.6" fill="#004a92" stroke="#002850" stroke-opacity="0.55" stroke-width="0.7"/>
<rect x="238.6" y="486.5" width="32.9" height="246.9" rx="1.6" fill="url(#frontg)"/>
<rect x="238.6" y="731.0" width="32.9" height="2.4" rx="1" fill="url(#botg)"/>
<rect x="238.6" y="486.5" width="32.9" height="1.6" rx="1" fill="url(#topg)"/>
<polygon points="270.9,443.7 285.7,436.2 285.7,479.0 270.9,486.5" fill="#a42c0a" stroke="#621a06" stroke-opacity="0.5" stroke-width="0.6" stroke-linejoin="round"/>
<polygon points="270.9,443.7 285.7,436.2 285.7,479.0 270.9,486.5" fill="url(#sideg)"/>
<polygon points="271.5,484.3 285.7,476.8 285.7,479.0 271.5,486.5" fill="#000" opacity="0.16"/>
<rect x="238.6" y="443.7" width="32.9" height="42.8" rx="1.6" fill="#ff4511" stroke="#8c2509" stroke-opacity="0.55" stroke-width="0.7"/>
<rect x="238.6" y="443.7" width="32.9" height="42.8" rx="1.6" fill="url(#frontg)"/>
<rect x="238.6" y="484.1" width="32.9" height="2.4" rx="1" fill="url(#botg)"/>
<rect x="238.6" y="443.7" width="32.9" height="1.6" rx="1" fill="url(#topg)"/>
<polygon points="270.9,443.3 285.7,435.8 285.7,436.2 270.9,443.7" fill="#a4640b"/>
<rect x="238.6" y="443.3" width="32.9" height="0.4" rx="0.3" fill="#ff9c12"/>
<polygon points="239.4,443.3 271.5,443.3 285.7,435.8 254.3,435.8" fill="#b7700c" stroke="#6d4307" stroke-opacity="0.7" stroke-width="0.8" stroke-linejoin="round"/>
<polygon points="338.1,474.6 352.9,467.1 352.9,725.9 338.1,733.4" fill="#002f5e" stroke="#001c38" stroke-opacity="0.5" stroke-width="0.6" stroke-linejoin="round"/>
<polygon points="338.1,474.6 352.9,467.1 352.9,725.9 338.1,733.4" fill="url(#sideg)"/>
<polygon points="338.7,731.2 352.9,723.7 352.9,725.9 338.7,733.4" fill="#000" opacity="0.16"/>
<rect x="305.8" y="474.6" width="32.9" height="258.8" rx="1.6" fill="#004a92" stroke="#002850" stroke-opacity="0.55" stroke-width="0.7"/>
<rect x="305.8" y="474.6" width="32.9" height="258.8" rx="1.6" fill="url(#frontg)"/>
<rect x="305.8" y="731.0" width="32.9" height="2.4" rx="1" fill="url(#botg)"/>
<rect x="305.8" y="474.6" width="32.9" height="1.6" rx="1" fill="url(#topg)"/>
<polygon points="338.1,443.7 352.9,436.2 352.9,467.1 338.1,474.6" fill="#a42c0a" stroke="#621a06" stroke-opacity="0.5" stroke-width="0.6" stroke-linejoin="round"/>
<polygon points="338.1,443.7 352.9,436.2 352.9,467.1 338.1,474.6" fill="url(#sideg)"/>
<polygon points="338.7,472.4 352.9,464.9 352.9,467.1 338.7,474.6" fill="#000" opacity="0.16"/>
<rect x="305.8" y="443.7" width="32.9" height="30.9" rx="1.6" fill="#ff4511" stroke="#8c2509" stroke-opacity="0.55" stroke-width="0.7"/>
<rect x="305.8" y="443.7" width="32.9" height="30.9" rx="1.6" fill="url(#frontg)"/>
<rect x="305.8" y="472.2" width="32.9" height="2.4" rx="1" fill="url(#botg)"/>
<rect x="305.8" y="443.7" width="32.9" height="1.6" rx="1" fill="url(#topg)"/>
<polygon points="338.1,443.3 352.9,435.8 352.9,436.2 338.1,443.7" fill="#a4640b"/>
<rect x="305.8" y="443.3" width="32.9" height="0.4" rx="0.3" fill="#ff9c12"/>
<polygon points="306.6,443.3 338.7,443.3 352.9,435.8 321.5,435.8" fill="#b7700c" stroke="#6d4307" stroke-opacity="0.7" stroke-width="0.8" stroke-linejoin="round"/>
<polygon points="405.9,611.0 420.7,603.5 420.7,725.9 405.9,733.4" fill="#002f5e" stroke="#001c38" stroke-opacity="0.5" stroke-width="0.6" stroke-linejoin="round"/>
<polygon points="405.9,611.0 420.7,603.5 420.7,725.9 405.9,733.4" fill="url(#sideg)"/>
<polygon points="406.5,731.2 420.7,723.7 420.7,725.9 406.5,733.4" fill="#000" opacity="0.16"/>
<rect x="373.6" y="611.0" width="32.9" height="122.4" rx="1.6" fill="#004a92" stroke="#002850" stroke-opacity="0.55" stroke-width="0.7"/>
<rect x="373.6" y="611.0" width="32.9" height="122.4" rx="1.6" fill="url(#frontg)"/>
<rect x="373.6" y="731.0" width="32.9" height="2.4" rx="1" fill="url(#botg)"/>
<rect x="373.6" y="611.0" width="32.9" height="1.6" rx="1" fill="url(#topg)"/>
<polygon points="405.9,604.0 420.7,596.5 420.7,603.5 405.9,611.0" fill="#a42c0a" stroke="#621a06" stroke-opacity="0.5" stroke-width="0.6" stroke-linejoin="round"/>
<polygon points="405.9,604.0 420.7,596.5 420.7,603.5 405.9,611.0" fill="url(#sideg)"/>
<polygon points="406.5,608.8 420.7,601.3 420.7,603.5 406.5,611.0" fill="#000" opacity="0.16"/>
<rect x="373.6" y="604.0" width="32.9" height="7.0" rx="1.6" fill="#ff4511" stroke="#8c2509" stroke-opacity="0.55" stroke-width="0.7"/>
<rect x="373.6" y="604.0" width="32.9" height="7.0" rx="1.6" fill="url(#frontg)"/>
<rect x="373.6" y="608.6" width="32.9" height="2.4" rx="1" fill="url(#botg)"/>
<rect x="373.6" y="604.0" width="32.9" height="1.6" rx="1" fill="url(#topg)"/>
<polygon points="405.9,566.7 420.7,559.2 420.7,596.5 405.9,604.0" fill="#a49015" stroke="#62560c" stroke-opacity="0.5" stroke-width="0.6" stroke-linejoin="round"/>
<polygon points="405.9,566.7 420.7,559.2 420.7,596.5 405.9,604.0" fill="url(#sideg)"/>
<polygon points="406.5,601.8 420.7,594.3 420.7,596.5 406.5,604.0" fill="#000" opacity="0.16"/>
<rect x="373.6" y="566.7" width="32.9" height="37.3" rx="1.6" fill="#ffe022" stroke="#8c7b12" stroke-opacity="0.55" stroke-width="0.7"/>
<rect x="373.6" y="566.7" width="32.9" height="37.3" rx="1.6" fill="url(#frontg)"/>
<rect x="373.6" y="601.6" width="32.9" height="2.4" rx="1" fill="url(#botg)"/>
<rect x="373.6" y="566.7" width="32.9" height="1.6" rx="1" fill="url(#topg)"/>
<polygon points="405.9,473.3 420.7,465.8 420.7,559.2 405.9,566.7" fill="#3b6b15" stroke="#23400c" stroke-opacity="0.5" stroke-width="0.6" stroke-linejoin="round"/>
<polygon points="405.9,473.3 420.7,465.8 420.7,559.2 405.9,566.7" fill="url(#sideg)"/>
<polygon points="406.5,564.5 420.7,557.0 420.7,559.2 406.5,566.7" fill="#000" opacity="0.16"/>
<rect x="373.6" y="473.3" width="32.9" height="93.4" rx="1.6" fill="#5ca621" stroke="#325b12" stroke-opacity="0.55" stroke-width="0.7"/>
<rect x="373.6" y="473.3" width="32.9" height="93.4" rx="1.6" fill="url(#frontg)"/>
<rect x="373.6" y="564.3" width="32.9" height="2.4" rx="1" fill="url(#botg)"/>
<rect x="373.6" y="473.3" width="32.9" height="1.6" rx="1" fill="url(#topg)"/>
<polygon points="405.9,468.4 420.7,460.9 420.7,465.8 405.9,473.3" fill="#59879c"/>
<polygon points="405.9,468.4 420.7,460.9 420.7,465.8 405.9,473.3" fill="url(#sideg)"/>
<rect x="373.6" y="468.4" width="32.9" height="4.9" rx="0.3" fill="#8ad2f2"/>
<rect x="373.6" y="468.4" width="32.9" height="4.9" rx="0.3" fill="url(#frontg)"/>
<polygon points="405.9,463.7 420.7,456.2 420.7,460.9 405.9,468.4" fill="#6a8524"/>
<polygon points="405.9,463.7 420.7,456.2 420.7,460.9 405.9,468.4" fill="url(#sideg)"/>
<rect x="373.6" y="463.7" width="32.9" height="4.7" rx="0.3" fill="#a5cf38"/>
<rect x="373.6" y="463.7" width="32.9" height="4.7" rx="0.3" fill="url(#frontg)"/>
<polygon points="405.9,459.7 420.7,452.2 420.7,456.2 405.9,463.7" fill="#2b103d"/>
<polygon points="405.9,459.7 420.7,452.2 420.7,456.2 405.9,463.7" fill="url(#sideg)"/>
<rect x="373.6" y="459.7" width="32.9" height="4.0" rx="0.3" fill="#43195f"/>
<rect x="373.6" y="459.7" width="32.9" height="4.0" rx="0.3" fill="url(#frontg)"/>
<polygon points="405.9,443.3 420.7,435.8 420.7,452.2 405.9,459.7" fill="#a4640b" stroke="#623c06" stroke-opacity="0.5" stroke-width="0.6" stroke-linejoin="round"/>
<polygon points="405.9,443.3 420.7,435.8 420.7,452.2 405.9,459.7" fill="url(#sideg)"/>
<polygon points="406.5,457.5 420.7,450.0 420.7,452.2 406.5,459.7" fill="#000" opacity="0.16"/>
<rect x="373.6" y="443.3" width="32.9" height="16.4" rx="1.6" fill="#ff9c12" stroke="#8c5509" stroke-opacity="0.55" stroke-width="0.7"/>
<rect x="373.6" y="443.3" width="32.9" height="16.4" rx="1.6" fill="url(#frontg)"/>
<rect x="373.6" y="457.3" width="32.9" height="2.4" rx="1" fill="url(#botg)"/>
<rect x="373.6" y="443.3" width="32.9" height="1.6" rx="1" fill="url(#topg)"/>
<polygon points="374.4,443.3 406.5,443.3 420.7,435.8 389.3,435.8" fill="#b7700c" stroke="#6d4307" stroke-opacity="0.7" stroke-width="0.8" stroke-linejoin="round"/>
<polygon points="473.5,466.0 488.3,458.5 488.3,725.9 473.5,733.4" fill="#002f5e" stroke="#001c38" stroke-opacity="0.5" stroke-width="0.6" stroke-linejoin="round"/>
<polygon points="473.5,466.0 488.3,458.5 488.3,725.9 473.5,733.4" fill="url(#sideg)"/>
<polygon points="474.1,731.2 488.3,723.7 488.3,725.9 474.1,733.4" fill="#000" opacity="0.16"/>
<rect x="441.2" y="466.0" width="32.9" height="267.4" rx="1.6" fill="#004a92" stroke="#002850" stroke-opacity="0.55" stroke-width="0.7"/>
<rect x="441.2" y="466.0" width="32.9" height="267.4" rx="1.6" fill="url(#frontg)"/>
<rect x="441.2" y="731.0" width="32.9" height="2.4" rx="1" fill="url(#botg)"/>
<rect x="441.2" y="466.0" width="32.9" height="1.6" rx="1" fill="url(#topg)"/>
<polygon points="473.5,443.7 488.3,436.2 488.3,458.5 473.5,466.0" fill="#a42c0a" stroke="#621a06" stroke-opacity="0.5" stroke-width="0.6" stroke-linejoin="round"/>
<polygon points="473.5,443.7 488.3,436.2 488.3,458.5 473.5,466.0" fill="url(#sideg)"/>
<polygon points="474.1,463.8 488.3,456.3 488.3,458.5 474.1,466.0" fill="#000" opacity="0.16"/>
<rect x="441.2" y="443.7" width="32.9" height="22.3" rx="1.6" fill="#ff4511" stroke="#8c2509" stroke-opacity="0.55" stroke-width="0.7"/>
<rect x="441.2" y="443.7" width="32.9" height="22.3" rx="1.6" fill="url(#frontg)"/>
<rect x="441.2" y="463.6" width="32.9" height="2.4" rx="1" fill="url(#botg)"/>
<rect x="441.2" y="443.7" width="32.9" height="1.6" rx="1" fill="url(#topg)"/>
<polygon points="473.5,443.3 488.3,435.8 488.3,436.2 473.5,443.7" fill="#a4640b"/>
<rect x="441.2" y="443.3" width="32.9" height="0.4" rx="0.3" fill="#ff9c12"/>
<polygon points="442.0,443.3 474.1,443.3 488.3,435.8 456.9,435.8" fill="#b7700c" stroke="#6d4307" stroke-opacity="0.7" stroke-width="0.8" stroke-linejoin="round"/>
</g>
<g filter="url(#softl)">
<rect x="553.1" y="26.3" width="8.1" height="8.1" fill="#ff9814"/>
<rect x="552.1" y="456.1" width="8.1" height="8.1" fill="#ff9814"/>
<rect x="553.1" y="53.4" width="8.1" height="8.1" fill="#44196a"/>
<rect x="552.1" y="482.8" width="8.1" height="8.1" fill="#44196a"/>
<rect x="553.1" y="80.5" width="8.1" height="8.1" fill="#aacd12"/>
<rect x="552.1" y="509.5" width="8.1" height="8.1" fill="#aacd12"/>
<rect x="553.1" y="107.6" width="8.1" height="8.1" fill="#2a3d0a"/>
<rect x="552.1" y="536.2" width="8.1" height="8.1" fill="#2a3d0a"/>
<rect x="553.1" y="134.7" width="8.1" height="8.1" fill="#85c9fb"/>
<rect x="552.1" y="562.9" width="8.1" height="8.1" fill="#85c9fb"/>
<rect x="553.1" y="161.9" width="8.1" height="8.1" fill="#7b0324"/>
<rect x="552.1" y="589.6" width="8.1" height="8.1" fill="#7b0324"/>
<rect x="553.1" y="189.0" width="8.1" height="8.1" fill="#589f1e"/>
<rect x="552.1" y="616.3" width="8.1" height="8.1" fill="#589f1e"/>
<rect x="553.1" y="216.1" width="8.1" height="8.1" fill="#ffd622"/>
<rect x="552.1" y="643.0" width="8.1" height="8.1" fill="#ffd622"/>
<rect x="553.1" y="243.2" width="8.1" height="8.1" fill="#ff4511"/>
<rect x="552.1" y="669.7" width="8.1" height="8.1" fill="#ff4511"/>
<rect x="553.1" y="270.3" width="8.1" height="8.1" fill="#00478c"/>
<rect x="552.1" y="696.4" width="8.1" height="8.1" fill="#00478c"/>
</g>
<g filter="url(#softt)">
<text x="66.3" y="20.1" font-size="13.5" text-anchor="end" >100</text>
<text x="69.6" y="450.1" font-size="13.5" text-anchor="end" >100</text>
<text x="66.3" y="49.9" font-size="13.5" text-anchor="end" >90</text>
<text x="69.6" y="479.43" font-size="13.5" text-anchor="end" >90</text>
<text x="66.3" y="79.7" font-size="13.5" text-anchor="end" >80</text>
<text x="69.6" y="508.76" font-size="13.5" text-anchor="end" >80</text>
<text x="66.3" y="109.5" font-size="13.5" text-anchor="end" >70</text>
<text x="69.6" y="538.09" font-size="13.5" text-anchor="end" >70</text>
<text x="66.3" y="139.3" font-size="13.5" text-anchor="end" >60</text>
<text x="69.6" y="567.4200000000001" font-size="13.5" text-anchor="end" >60</text>
<text x="66.3" y="169.1" font-size="13.5" text-anchor="end" >50</text>
<text x="69.6" y="596.75" font-size="13.5" text-anchor="end" >50</text>
<text x="66.3" y="198.9" font-size="13.5" text-anchor="end" >40</text>
<text x="69.6" y="626.08" font-size="13.5" text-anchor="end" >40</text>
<text x="66.3" y="228.7" font-size="13.5" text-anchor="end" >30</text>
<text x="69.6" y="655.4100000000001" font-size="13.5" text-anchor="end" >30</text>
<text x="66.3" y="258.5" font-size="13.5" text-anchor="end" >20</text>
<text x="69.6" y="684.74" font-size="13.5" text-anchor="end" >20</text>
<text x="66.3" y="288.3" font-size="13.5" text-anchor="end" >10</text>
<text x="69.6" y="714.0699999999999" font-size="13.5" text-anchor="end" >10</text>
<text x="66.3" y="318.1" font-size="13.5" text-anchor="end" >0</text>
<text x="69.6" y="743.4" font-size="13.5" text-anchor="end" >0</text>
<text x="84.5" y="336.0" font-size="13" text-anchor="start" >Parent</text>
<text x="161.5" y="336.0" font-size="13" text-anchor="start" >IPCa2</text>
<text x="231.2" y="336.0" font-size="13" text-anchor="start" >IPCa4</text>
<text x="297.7" y="336.0" font-size="13" text-anchor="start" >IPCT3</text>
<text x="363.5" y="336.0" font-size="13" text-anchor="start" >IPCT10</text>
<text x="433.2" y="336.0" font-size="13" text-anchor="start" >IPCT13</text>
<text x="84.5" y="351.4" font-size="13" text-anchor="start" >DCP 92-3</text>
<text x="86.7" y="759.8" font-size="13" text-anchor="start" >Parent</text>
<text x="163.1" y="759.8" font-size="13" text-anchor="start" >IPCa2</text>
<text x="230.6" y="759.8" font-size="13" text-anchor="start" >IPCa4</text>
<text x="296.7" y="759.8" font-size="13" text-anchor="start" >IPCT3</text>
<text x="361.9" y="759.8" font-size="13" text-anchor="start" >IPCT10</text>
<text x="429.3" y="759.8" font-size="13" text-anchor="start" >IPCT13</text>
<text x="86.7" y="775.6" font-size="13" text-anchor="start" >DCP 92-3</text>
<text x="242.0" y="387.6" font-size="19.8" text-anchor="start" >Root Samples</text>
<text x="184.3" y="810.0" font-size="19.6" text-anchor="start" >Root Nodule Samples</text>
<text transform="translate(20.9,246) rotate(-90) scale(0.94,1)" font-size="21" word-spacing="-2">Relative Abundance (%)</text>
<text transform="translate(30.5,681.4) rotate(-90) scale(0.934,1)" font-size="21" word-spacing="-2">Relative Abundance (%)</text>
<text x="565.8" y="34.9" font-size="13.5" text-anchor="start" >Unclassified</text>
<text x="565.0" y="464.7" font-size="13.4" text-anchor="start" >Unclassified</text>
<text x="565.8" y="62.0" font-size="13.5" text-anchor="start" >Gemmatimonadetes</text>
<text x="565.0" y="491.4" font-size="13.4" text-anchor="start" >Gemmatimonadetes</text>
<text x="565.8" y="89.1" font-size="13.5" text-anchor="start" >Planctomycetes</text>
<text x="565.0" y="518.1" font-size="13.4" text-anchor="start" >Planctomycetes</text>
<text x="565.8" y="116.2" font-size="13.5" text-anchor="start" >Verrucomicrobia</text>
<text x="565.0" y="544.8" font-size="13.4" text-anchor="start" >Verrucomicrobia</text>
<text x="565.8" y="143.3" font-size="13.5" text-anchor="start" >Chloroflexi</text>
<text x="565.0" y="571.5" font-size="13.4" text-anchor="start" >Chloroflexi</text>
<text x="565.8" y="170.5" font-size="13.5" text-anchor="start" >Bacteroidetes</text>
<text x="565.0" y="598.2" font-size="13.4" text-anchor="start" >Bacteroidetes</text>
<text x="565.8" y="197.6" font-size="13.5" text-anchor="start" >Actinobacteria</text>
<text x="565.0" y="624.9" font-size="13.4" text-anchor="start" >Actinobacteria</text>
<text x="565.8" y="224.7" font-size="13.5" text-anchor="start" >Firmicutes</text>
<text x="565.0" y="651.6" font-size="13.4" text-anchor="start" >Firmicutes</text>
<text x="565.8" y="251.8" font-size="13.5" text-anchor="start" >Cyanobacteria</text>
<text x="565.0" y="678.3" font-size="13.4" text-anchor="start" >Cyanobacteria</text>
<text x="565.8" y="278.9" font-size="13.5" text-anchor="start" >Proteobacteria</text>
<text x="565.0" y="705.0" font-size="13.4" text-anchor="start" >Proteobacteria</text>
</g>
</svg>
</body></html>
